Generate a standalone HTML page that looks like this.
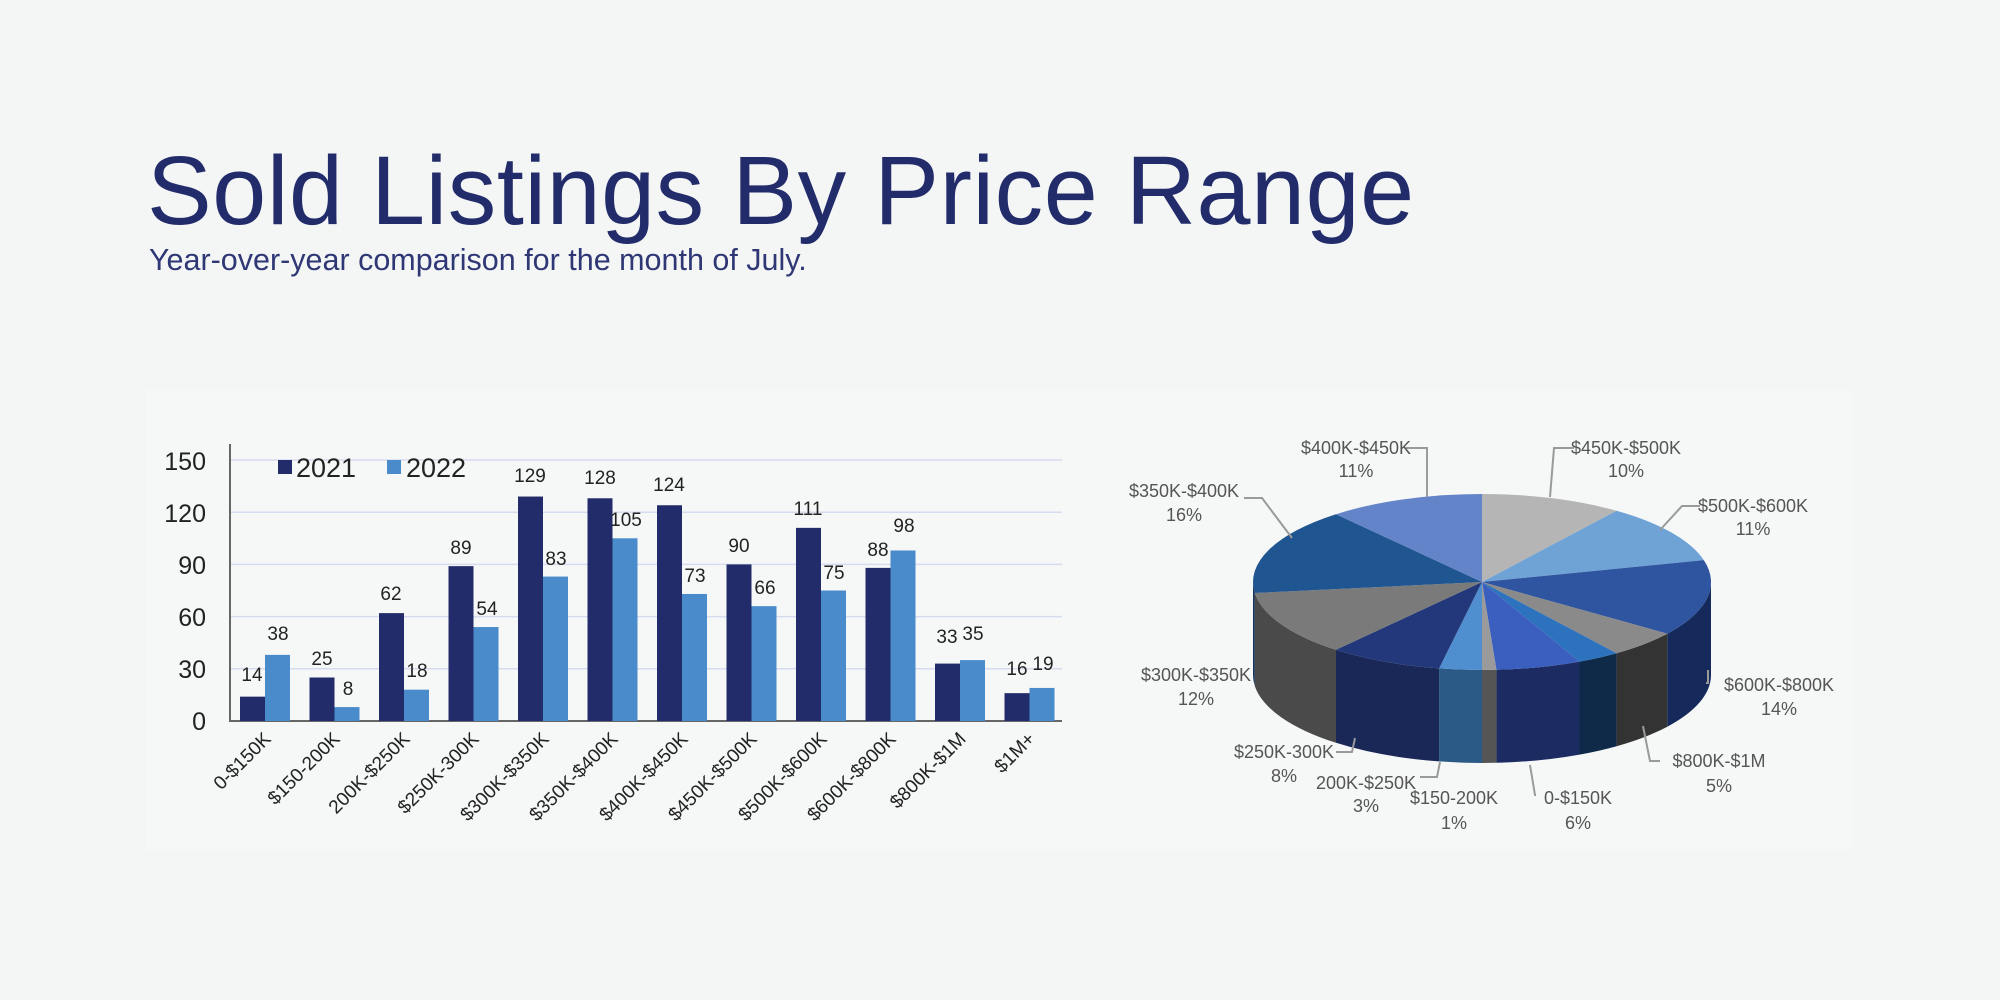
<!DOCTYPE html>
<html><head><meta charset="utf-8"><style>
html,body{margin:0;padding:0;background:#f4f6f6;}
body{width:2000px;height:1000px;position:relative;overflow:hidden;font-family:"Liberation Sans",sans-serif;}
.t{position:absolute;left:147px;top:135px;font-size:97px;color:#232c6a;letter-spacing:0.6px;white-space:nowrap;}
.s{position:absolute;left:149px;top:243px;font-size:30.5px;color:#2f3775;white-space:nowrap;}
</style></head><body>
<div class="t">Sold Listings By Price Range</div>
<div class="s">Year-over-year comparison for the month of July.</div>
<svg id="sv" width="2000" height="1000" style="position:absolute;left:0;top:0" font-family="Liberation Sans, sans-serif">
<rect x="147" y="390" width="1705" height="460" fill="#f6f7f7"/>
<g id="grid" stroke="#d6dcef" stroke-width="1.5"></g>
<line x1="230" y1="444" x2="230" y2="722" stroke="#666" stroke-width="2"/>
<line x1="230" y1="721" x2="1062" y2="721" stroke="#666" stroke-width="2"/>
<g font-size="25" fill="#222" text-anchor="end">
<text x="206" y="730">0</text><text x="206" y="678">30</text><text x="206" y="626">60</text>
<text x="206" y="574">90</text><text x="206" y="522">120</text><text x="206" y="470">150</text>
</g>
<rect x="278" y="460" width="14" height="14" fill="#232c6a"/>
<text x="296" y="477" font-size="27" fill="#222">2021</text>
<rect x="387" y="460" width="14" height="14" fill="#4a8bcb"/>
<text x="406" y="477" font-size="27" fill="#222">2022</text>
<g id="bars"></g>
<g id="side"></g><g id="top"></g>
<g stroke="#9a9a9a" stroke-width="2" fill="none">
<polyline points="1406,448 1427,448 1427,497"/>
<polyline points="1574,448 1554,448 1550,497"/>
<polyline points="1700,506 1682,506 1660,530"/>
<polyline points="1244,498 1262,498 1292,538"/>
<polyline points="1706,683 1708,683 1708,670"/>
<polyline points="1660,761 1650,761 1643,726"/>
<polyline points="1336,752 1352,752 1355,738"/>
<polyline points="1420,777 1437,777 1440,762"/>
<polyline points="1536,795 1535,795 1530,765"/>
</g>
<g font-size="18" fill="#555" text-anchor="middle">
<text x="1356" y="454">$400K-$450K</text><text x="1356" y="477">11%</text>
<text x="1626" y="454">$450K-$500K</text><text x="1626" y="477">10%</text>
<text x="1753" y="512">$500K-$600K</text><text x="1753" y="535">11%</text>
<text x="1184" y="497">$350K-$400K</text><text x="1184" y="521">16%</text>
<text x="1196" y="681">$300K-$350K</text><text x="1196" y="705">12%</text>
<text x="1779" y="691">$600K-$800K</text><text x="1779" y="715">14%</text>
<text x="1719" y="767">$800K-$1M</text><text x="1719" y="792">5%</text>
<text x="1284" y="758">$250K-300K</text><text x="1284" y="782">8%</text>
<text x="1366" y="789">200K-$250K</text><text x="1366" y="812">3%</text>
<text x="1454" y="804">$150-200K</text><text x="1454" y="829">1%</text>
<text x="1578" y="804">0-$150K</text><text x="1578" y="829">6%</text>
</g>
<g font-size="19" fill="#222" text-anchor="end">
<text transform="translate(272,740) rotate(-45)">0-$150K</text>
<text transform="translate(341,740) rotate(-45)">$150-200K</text>
<text transform="translate(411,740) rotate(-45)">200K-$250K</text>
<text transform="translate(480,740) rotate(-45)">$250K-300K</text>
<text transform="translate(550,740) rotate(-45)">$300K-$350K</text>
<text transform="translate(619,740) rotate(-45)">$350K-$400K</text>
<text transform="translate(689,740) rotate(-45)">$400K-$450K</text>
<text transform="translate(758,740) rotate(-45)">$450K-$500K</text>
<text transform="translate(828,740) rotate(-45)">$500K-$600K</text>
<text transform="translate(897,740) rotate(-45)">$600K-$800K</text>
<text transform="translate(967,740) rotate(-45)">$800K-$1M</text>
<text transform="translate(1036,740) rotate(-45)">$1M+</text>
</g>
<g id="vals" font-size="19" fill="#222" text-anchor="middle">
<text x="252" y="681">14</text><text x="278" y="640">38</text>
<text x="322" y="665">25</text><text x="348" y="695">8</text>
<text x="391" y="600">62</text><text x="417" y="677">18</text>
<text x="461" y="554">89</text><text x="487" y="615">54</text>
<text x="530" y="482">129</text><text x="556" y="565">83</text>
<text x="600" y="484">128</text><text x="626" y="526">105</text>
<text x="669" y="491">124</text><text x="695" y="582">73</text>
<text x="739" y="552">90</text><text x="765" y="594">66</text>
<text x="808" y="515">111</text><text x="834" y="579">75</text>
<text x="878" y="556">88</text><text x="904" y="532">98</text>
<text x="947" y="643">33</text><text x="973" y="640">35</text>
<text x="1017" y="675">16</text><text x="1043" y="670">19</text>
</g>
</svg>
<script>
var NS="http://www.w3.org/2000/svg";
function el(t,a,p){var e=document.createElementNS(NS,t);for(var k in a)e.setAttribute(k,a[k]);document.getElementById(p).appendChild(e);}
for(var v=30;v<=150;v+=30){var y=721-v*1.74;el('line',{x1:230,y1:y,x2:1062,y2:y},'grid');}
var d1=[14,25,62,89,129,128,124,90,111,88,33,16],d2=[38,8,18,54,83,105,73,66,75,98,35,19];
for(var i=0;i<12;i++){var x=240+69.5*i;
el('rect',{x:x,y:721-d1[i]*1.74,width:25,height:d1[i]*1.74,fill:'#232c6a'},'bars');
el('rect',{x:x+25,y:721-d2[i]*1.74,width:25,height:d2[i]*1.74,fill:'#4a8bcb'},'bars');}
var cx=1482,cy=582,rx=229,ry=88,dep=93;
var sl=[[10,'#b5b5b5','#777'],[11,'#6fa3d6','#3d6e9e'],[14,'#2f54a0','#152a5a'],[5,'#8a8a8a','#333'],[3,'#2d72bd','#0f2a48'],[6,'#3b5fbf','#1c2c62'],[1,'#9a9a9a','#555'],[3,'#4f8fd0','#2a5a85'],[8,'#22387a','#1a2858'],[12,'#7a7a7a','#4a4a4a'],[16,'#1f5590','#18325a'],[11,'#6384c8','#3a5a90']];
function P(a,dy){var r=a*Math.PI/180;return (cx+rx*Math.sin(r)).toFixed(1)+','+(cy-ry*Math.cos(r)+(dy||0)).toFixed(1);}
var c=0;
sl.forEach(function(s){var a=c*3.6,b=(c+s[0])*3.6;c+=s[0];
var la=b-a>180?1:0;
el('path',{d:'M'+cx+','+cy+' L'+P(a)+' A'+rx+','+ry+' 0 '+la+' 1 '+P(b)+' Z',fill:s[1]},'top');
var sa=Math.max(a,90),sb=Math.min(b,270);
if(sb>sa){el('path',{d:'M'+P(sa)+' A'+rx+','+ry+' 0 0 1 '+P(sb)+' L'+P(sb,dep)+' A'+rx+','+ry+' 0 0 0 '+P(sa,dep)+' Z',fill:s[2]},'side');}
});
</script>
</body></html>
